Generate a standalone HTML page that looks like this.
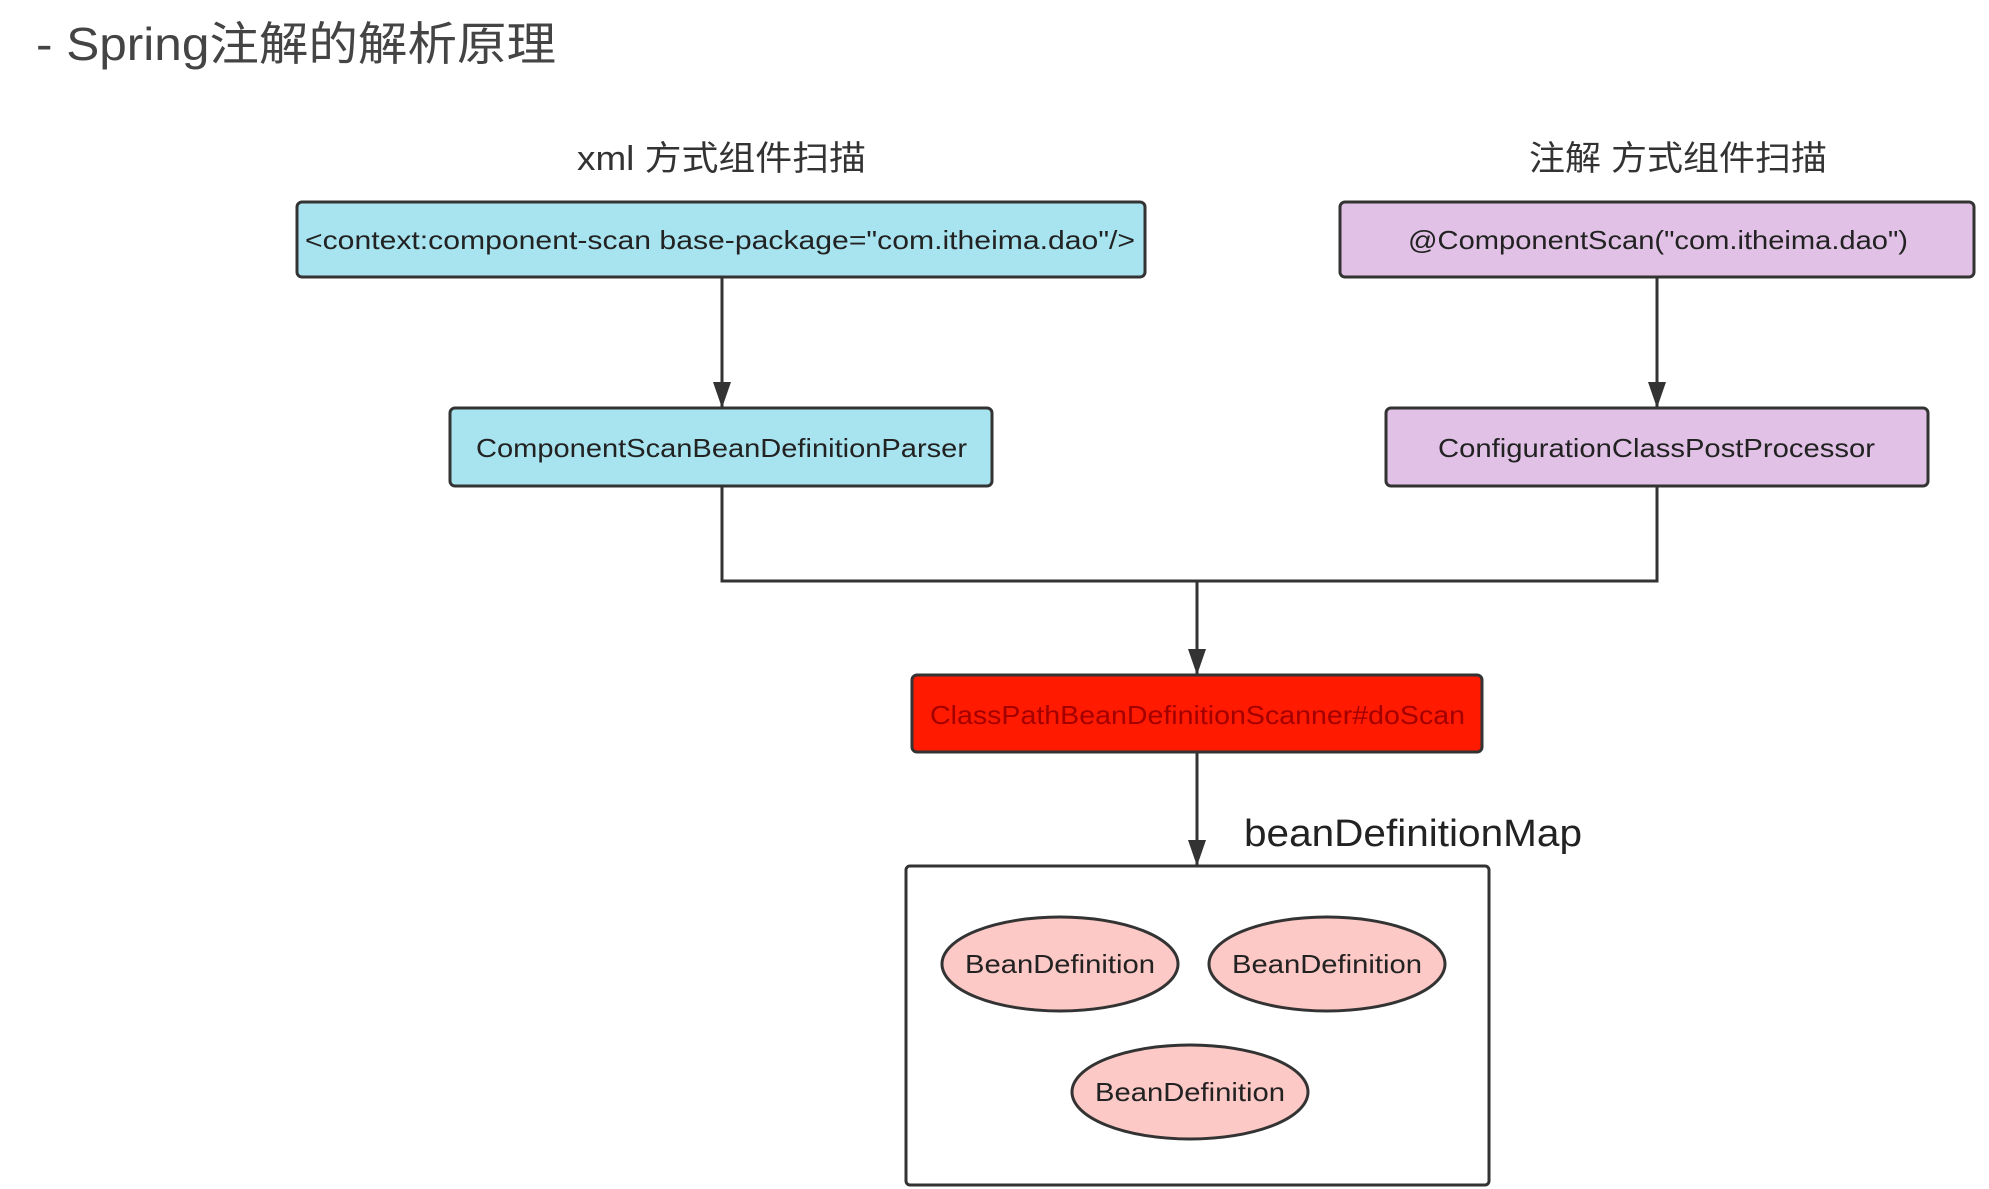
<!DOCTYPE html>
<html><head><meta charset="utf-8"><style>
html,body{margin:0;padding:0;background:#fff;}
svg{display:block;}
text{font-family:"Liberation Sans","Noto Sans CJK SC",sans-serif;}
</style></head><body>
<svg width="1989" height="1189" viewBox="0 0 1989 1189" xmlns="http://www.w3.org/2000/svg">
<defs><marker id="a" markerWidth="26" markerHeight="18" refX="26" refY="9" orient="auto" markerUnits="userSpaceOnUse" viewBox="0 0 26 18"><path d="M0,0 L26,9 L0,18 z" fill="#333"/></marker></defs>
<text x="36" y="60" font-size="46" fill="#444" textLength="520" lengthAdjust="spacingAndGlyphs">- Spring注解的解析原理</text>
<text x="577" y="170" font-size="34" fill="#333" textLength="289" lengthAdjust="spacingAndGlyphs">xml 方式组件扫描</text>
<text x="1529" y="170" font-size="34" fill="#333" textLength="298" lengthAdjust="spacingAndGlyphs">注解 方式组件扫描</text>
<g stroke="#333" stroke-width="3" fill="none">
<line x1="722" y1="277" x2="722" y2="408" marker-end="url(#a)"/>
<line x1="1657" y1="277" x2="1657" y2="408" marker-end="url(#a)"/>
<polyline points="722,486 722,581 1657,581 1657,486"/>
<line x1="1197" y1="581" x2="1197" y2="675" marker-end="url(#a)"/>
<line x1="1197" y1="752" x2="1197" y2="866" marker-end="url(#a)"/>
</g>
<g stroke="#333" stroke-width="3">
<rect x="297" y="202" width="848" height="75" rx="5" fill="#a8e4f0"/>
<rect x="1340" y="202" width="634" height="75" rx="5" fill="#e1c2e6"/>
<rect x="450" y="408" width="542" height="78" rx="5" fill="#a8e4f0"/>
<rect x="1386" y="408" width="542" height="78" rx="5" fill="#e1c2e6"/>
<rect x="912" y="675" width="570" height="77" rx="5" fill="#ff1a00"/>
<rect x="906" y="866" width="583" height="319" rx="4" fill="#fff"/>
<ellipse cx="1060" cy="964" rx="118" ry="47" fill="#fcc9c6"/>
<ellipse cx="1327" cy="964" rx="118" ry="47" fill="#fcc9c6"/>
<ellipse cx="1190" cy="1092" rx="118" ry="47" fill="#fcc9c6"/>
</g>
<g font-size="26" fill="#222">
<text x="305" y="249" textLength="830" lengthAdjust="spacingAndGlyphs">&lt;context:component-scan base-package="com.itheima.dao"/&gt;</text>
<text x="1408" y="249" textLength="500" lengthAdjust="spacingAndGlyphs">@ComponentScan("com.itheima.dao")</text>
<text x="476" y="457" textLength="491" lengthAdjust="spacingAndGlyphs">ComponentScanBeanDefinitionParser</text>
<text x="1438" y="457" textLength="437" lengthAdjust="spacingAndGlyphs">ConfigurationClassPostProcessor</text>
<text x="930" y="724" textLength="535" lengthAdjust="spacingAndGlyphs" fill="#a30000">ClassPathBeanDefinitionScanner#doScan</text>
<text x="965" y="973" textLength="190" lengthAdjust="spacingAndGlyphs">BeanDefinition</text>
<text x="1232" y="973" textLength="190" lengthAdjust="spacingAndGlyphs">BeanDefinition</text>
<text x="1095" y="1101" textLength="190" lengthAdjust="spacingAndGlyphs">BeanDefinition</text>
</g>
<text x="1244" y="846" font-size="38" fill="#222" textLength="338" lengthAdjust="spacingAndGlyphs">beanDefinitionMap</text>
</svg>
</body></html>
